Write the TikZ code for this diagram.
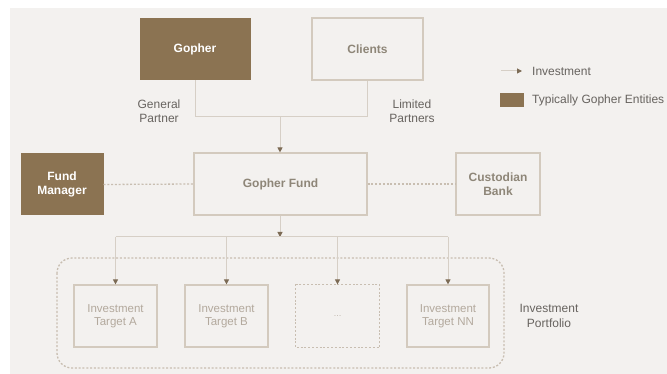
\documentclass[tikz,border=0pt]{standalone}
\usepackage{fontspec}
\setmainfont{Liberation Sans}
\usetikzlibrary{arrows.meta}
\definecolor{bg}{HTML}{F3F1EF}
\definecolor{gbrown}{HTML}{8B7352}
\definecolor{boxline}{HTML}{D3CABE}
\definecolor{dotcol}{HTML}{C8BEB1}
\definecolor{conn}{HTML}{D6CFC6}
\definecolor{tip}{HTML}{7C6B55}
\definecolor{boldtxt}{HTML}{8E8678}
\definecolor{lighttxt}{HTML}{B3A99D}
\definecolor{darktxt}{HTML}{67635F}
\begin{document}
\begin{tikzpicture}[x=1pt,y=-1pt,
  brownbox/.style={draw=gbrown,line width=1pt,fill=gbrown,text=white,font=\bfseries\fontsize{12}{13.5}\selectfont,align=center,inner sep=0pt},
  plainbox/.style={draw=boxline,line width=1.2pt,fill=bg,text=boldtxt,font=\bfseries\fontsize{12}{13.5}\selectfont,align=center,inner sep=0pt},
  targetbox/.style={draw=boxline,line width=1.2pt,fill=bg,text=lighttxt,font=\fontsize{11.5}{13.5}\selectfont,align=center,inner sep=0pt},
  conline/.style={draw=conn,line width=1pt},
  arrowline/.style={conline,-{Triangle[length=5pt,width=5pt,color=tip]}},
  dotline/.style={draw=dotcol,line width=1.3pt,dash pattern=on 2pt off 1.8pt},
  lbl/.style={text=darktxt,font=\fontsize{12}{14.5}\selectfont,align=center,inner sep=0pt}
]
\useasboundingbox (0,0) rectangle (667,374);
\fill[white] (0,0) rectangle (667,374);
\fill[bg] (10,8) rectangle (667,374);

% top boxes
\node[brownbox,minimum width=110pt,minimum height=61pt] (gopher) at (195,49.5) {Gopher};
\node[plainbox,minimum width=111pt,minimum height=62pt] (clients) at (367.5,49) {Clients};

% middle row
\node[brownbox,minimum width=82pt,minimum height=61pt] (fm) at (62,184.5) {Fund\\Manager};
\node[plainbox,minimum width=173pt,minimum height=62pt] (fund) at (280.5,184) {Gopher Fund};
\node[plainbox,minimum width=84pt,minimum height=62pt] (cust) at (498,184) {Custodian\\Bank};

% portfolio
\draw[dotline,rounded corners=15pt] (57,258) rectangle (504,368);
\node[targetbox,minimum width=83pt,minimum height=62pt] (ta) at (115.5,316) {Investment\\Target A};
\node[targetbox,minimum width=83pt,minimum height=62pt] (tb) at (226.5,316) {Investment\\Target B};
\node[targetbox,draw=none,minimum width=83pt,minimum height=62pt] (tdots) at (337.5,316) {\fontsize{8}{9}\selectfont\dots};
\draw[dotline] (tdots.north west) rectangle (tdots.south east);
\node[targetbox,minimum width=82pt,minimum height=62pt] (tn) at (448,316) {Investment\\Target NN};

% labels
\node[lbl] (gp) at (159,111) {General\\Partner};
\node[lbl] (lp) at (412,111) {Limited\\Partners};
\node[lbl] (port) at (549,316) {Investment\\Portfolio};

% connectors top
\coordinate (join) at (280,117);
\draw[conline] (gopher.south) |- (join);
\draw[conline] (clients.south) |- (join);
\draw[arrowline] (join) -- (fund.north -| join);

% dotted side links
\draw[dotline] (fm.east) -- (fund.west);
\draw[dotline] (fund.east) -- (cust.west);

% connectors bottom
\coordinate (bus) at (280,237);
\draw[arrowline] (fund.south -| bus) -- (bus);
\draw[conline] (ta.north |- bus) -- (tn.north |- bus);
\draw[arrowline] (ta.north |- bus) -- (ta.north);
\draw[arrowline] (tb.north |- bus) -- (tb.north);
\draw[arrowline] (tdots.north |- bus) -- (tdots.north);
\draw[arrowline] (tn.north |- bus) -- (tn.north);

% legend
\coordinate (legA) at (501,71);
\coordinate (legB) at (522,71);
\draw[arrowline] (legA) -- (legB);
\node[lbl,anchor=west] (legtxt1) at (532,71) {Investment};
\node[fill=gbrown,minimum width=24pt,minimum height=14pt,inner sep=0pt] (legbox) at (512,100) {};
\node[lbl,anchor=west] (legtxt2) at (532,100) {Typically Gopher Entities};
\end{tikzpicture}
\end{document}
